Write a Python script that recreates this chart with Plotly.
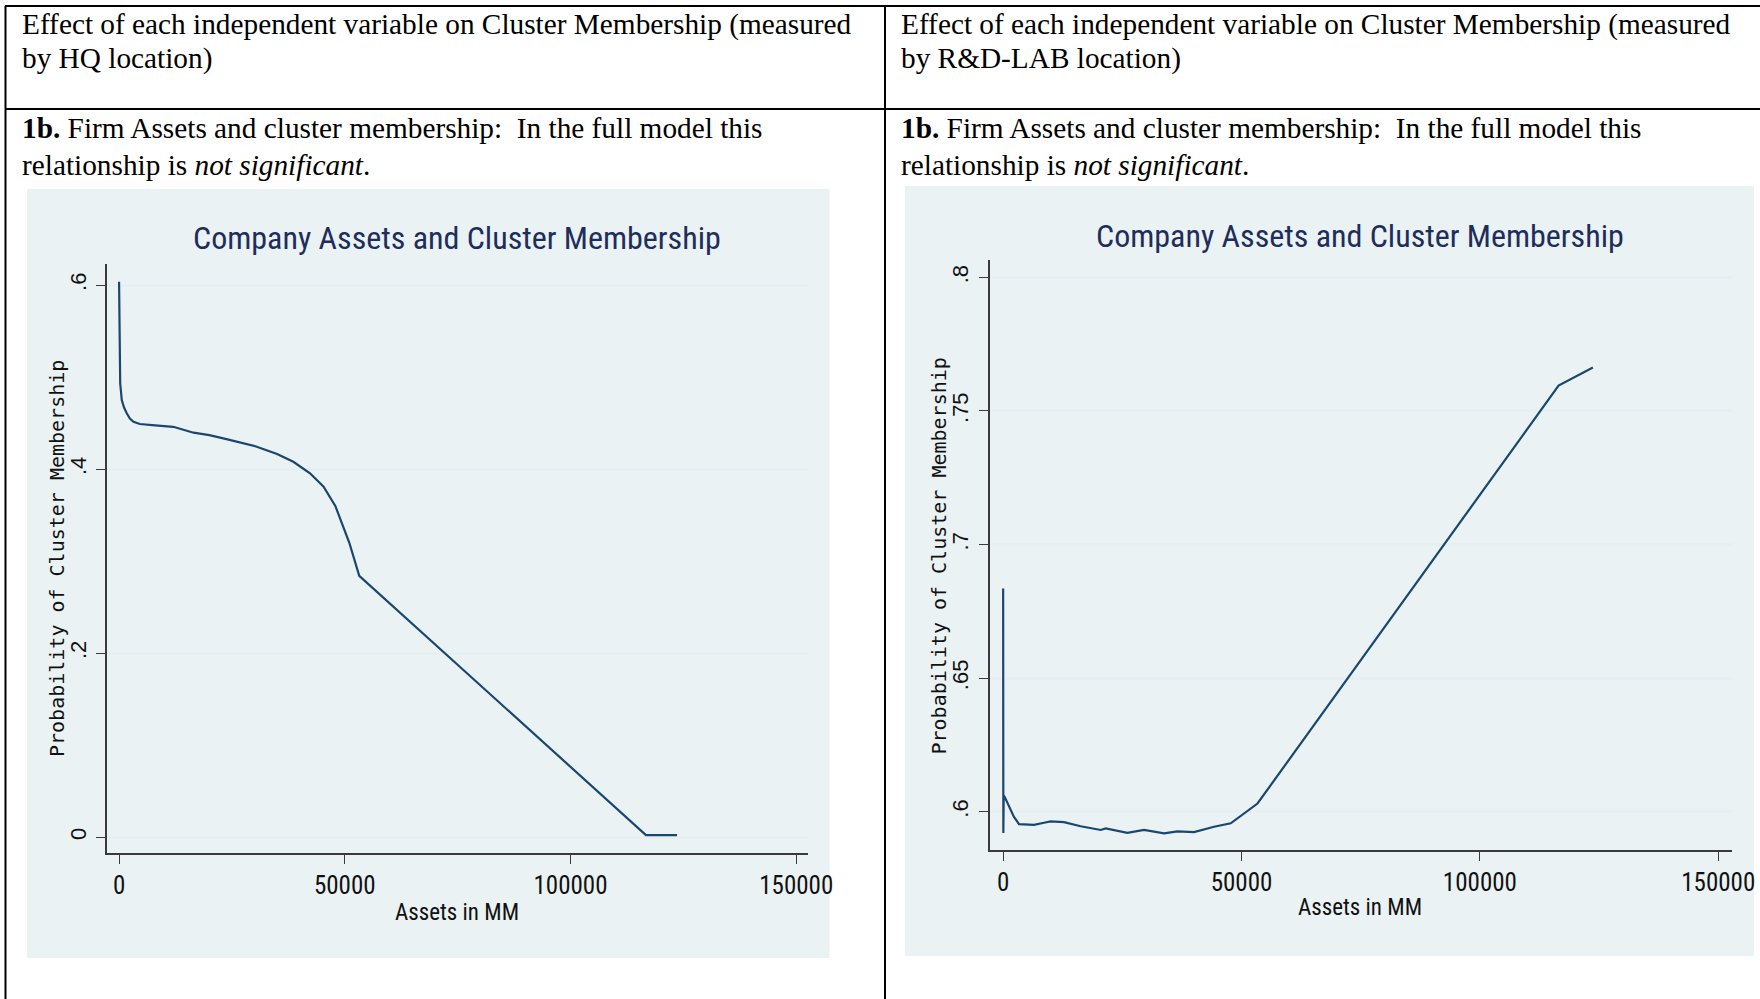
import plotly.graph_objects as go

# reference frame is 1760 x 999; the page is photographed slightly squeezed
# horizontally, so the figure itself is laid out a little wider
W, H = 1760, 999
FIG_W = 1786

# ---- data ----
hq_assets = [0, 50, 150, 250, 600, 1100, 1700, 2400, 3200, 4600, 8000, 12000,
             16500, 20000, 23100, 27000, 30500, 35000, 38600, 42300, 45300,
             47900, 51000, 53200, 116700, 123600]
hq_prob = [0.6035, 0.57, 0.51, 0.493, 0.475, 0.467, 0.4607, 0.455, 0.4515,
           0.449, 0.4475, 0.446, 0.4396, 0.437, 0.4335, 0.429, 0.4244, 0.4165,
           0.408, 0.3955, 0.381, 0.36, 0.32, 0.2841, 0.0024, 0.0024]

rd_assets = [0, 40, 120, 315, 1220, 2270, 3320, 6470, 8570, 9970, 12760, 16260,
             20460, 21510, 26060, 29550, 33750, 36550, 40040, 44240, 47740,
             53350, 116500, 123700]
rd_prob = [0.6836, 0.5921, 0.606, 0.6056, 0.6019, 0.5981, 0.5954, 0.5951,
           0.5959, 0.5964, 0.5961, 0.5946, 0.5932, 0.5938, 0.5921, 0.5932,
           0.5919, 0.5927, 0.5924, 0.5944, 0.5957, 0.6031, 0.7595, 0.7663]

x_ticks = [0, 50000, 100000, 150000]
hq_yticks = [0, 0.2, 0.4, 0.6]
hq_ylabels = ["0", ".2", ".4", ".6"]
rd_yticks = [0.6, 0.65, 0.7, 0.75, 0.8]
rd_ylabels = [".6", ".65", ".7", ".75", ".8"]

header_left = ["Effect of each independent variable on Cluster Membership (measured",
               "by HQ location)"]
header_right = ["Effect of each independent variable on Cluster Membership (measured",
                "by R&D-LAB location)"]
row_text = ["<b>1b.</b> Firm Assets and cluster membership:&nbsp; In the full model this",
            "relationship is <i>not significant</i>."]

chart_title = "Company Assets and Cluster Membership"
x_title = "Assets in MM"
y_title = "Probability of Cluster Membership"

NAVY = "#1a476f"
BG = "#eaf2f3"
GRID = "#e6eff1"
AXIS = "#3a3a3a"
NARROW = "Roboto Condensed, Liberation Sans Narrow, Liberation Sans, sans-serif"
SANS = "Liberation Sans, Arial, sans-serif"
SERIF = "Liberation Serif, Times New Roman, serif"
MONO = "DejaVu Sans Mono, monospace"


def px(x):
    return min(x / W, 1.0)


def py(y):
    return 1 - y / H


fig = go.Figure()
fig.add_trace(go.Scatter(x=hq_assets, y=hq_prob, mode="lines",
                         line=dict(color=NAVY, width=2.2), xaxis="x", yaxis="y"))
fig.add_trace(go.Scatter(x=rd_assets, y=rd_prob, mode="lines",
                         line=dict(color=NAVY, width=2.2), xaxis="x2", yaxis="y2"))

xcommon = dict(tickvals=x_ticks, ticktext=[str(v) for v in x_ticks],
               showgrid=False, zeroline=False, showline=True, linecolor=AXIS,
               linewidth=2, ticks="outside", ticklen=9, tickcolor=AXIS,
               tickwidth=1.3, tickfont=dict(family=NARROW, size=25, color="#111"))
ycommon = dict(showgrid=True, gridcolor=GRID, gridwidth=3, zeroline=False,
               showline=True, linecolor=AXIS, linewidth=1.5, ticks="outside",
               ticklen=9, tickcolor=AXIS, tickwidth=1.3, tickangle=-90,
               ticklabelstandoff=2,
               tickfont=dict(family=SANS, size=22, color="#111"))

fig.update_layout(
    width=FIG_W, height=H, showlegend=False,
    margin=dict(l=0, r=0, t=0, b=0),
    paper_bgcolor="white", plot_bgcolor="white",
    xaxis=dict(domain=[px(107), px(808)], range=[-2660, 152700], anchor="y", **xcommon),
    yaxis=dict(domain=[py(853), py(264)], range=[-0.0171, 0.6229], anchor="x",
               tickvals=hq_yticks, ticktext=hq_ylabels, **ycommon),
    xaxis2=dict(domain=[px(989), px(1731)], range=[-2850, 152875], anchor="y2", **xcommon),
    yaxis2=dict(domain=[py(850), py(260)], range=[0.5857, 0.8065], anchor="x2",
                tickvals=rd_yticks, ticktext=rd_ylabels, **ycommon),
)

shapes = []
# graph region backgrounds
for x0, x1, y0, y1 in [(27, 829, 189, 958), (904.5, 1753, 186, 956)]:
    shapes.append(dict(type="rect", xref="paper", yref="paper", layer="below",
                       x0=px(x0), x1=px(x1), y0=py(y1), y1=py(y0),
                       fillcolor=BG, line=dict(width=0)))
# table rules
for x0, y0, x1, y1 in [(5, 6, W, 6), (5, 109, W, 109), (5.5, 6, 5.5, H), (884.5, 6, 884.5, H)]:
    shapes.append(dict(type="line", xref="paper", yref="paper",
                       x0=px(x0), x1=px(x1), y0=py(y0), y1=py(y1),
                       line=dict(color="black", width=2)))
fig.update_layout(shapes=shapes)

ann = []


def text(x, y, s, font, xanchor="left", angle=0):
    ann.append(dict(x=px(x), y=py(y), xref="paper", yref="paper", text=s,
                    showarrow=False, xanchor=xanchor, yanchor="middle",
                    textangle=angle, font=font))


serif = dict(family=SERIF, size=29.3, color="black")
for i, line in enumerate(header_left):
    text(20, 25 + i * 33.7, line, serif)
for i, line in enumerate(header_right):
    text(898, 25 + i * 33.7, line, serif)
for i, line in enumerate(row_text):
    text(20, 128 + i * 37, line, serif)
    text(898, 128 + i * 37, line, serif)

title_font = dict(family=NARROW, size=32, color="#1e2d5c")
text(456.8, 238, chart_title, title_font, "center")
text(1359, 235.7, chart_title, title_font, "center")

xt_font = dict(family=NARROW, size=23, color="#111")
text(456.8, 912.5, x_title, xt_font, "center")
text(1359, 907, x_title, xt_font, "center")

yt_font = dict(family=MONO, size=20, color="#111")
text(57, 559, y_title, yt_font, "center", -90)
text(938, 556, y_title, yt_font, "center", -90)

fig.update_layout(annotations=ann)

page_fix = ("document.documentElement.style.margin='0';"
            "document.documentElement.style.overflow='hidden';"
            "document.body.style.margin='0';"
            "document.body.style.overflow='hidden';")
fig.write_html("out.html", config={"displayModeBar": False}, post_script=page_fix)
